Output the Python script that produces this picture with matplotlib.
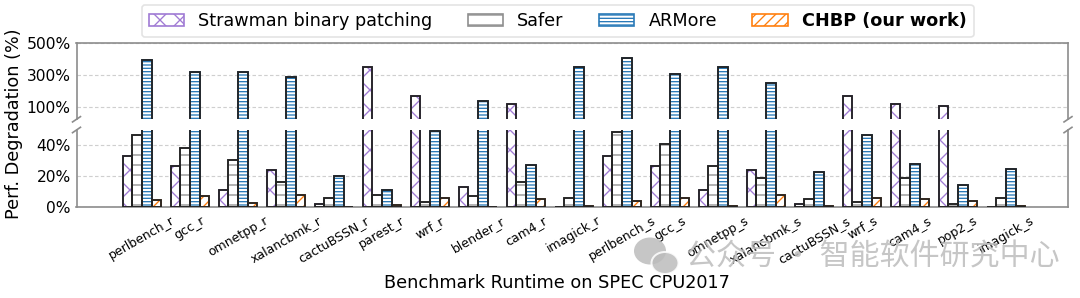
import numpy as np
import matplotlib.pyplot as plt
from matplotlib.patches import Ellipse

benchmarks = ["perlbench_r", "gcc_r", "omnetpp_r", "xalancbmk_r", "cactuBSSN_r",
              "parest_r", "wrf_r", "blender_r", "cam4_r", "imagick_r",
              "perlbench_s", "gcc_s", "omnetpp_s", "xalancbmk_s", "cactuBSSN_s",
              "wrf_s", "cam4_s", "pop2_s", "imagick_s"]
strawman = [33.4, 26.4, 10.9, 23.8, 2.3, 352, 167, 13.2, 119, 0.4,
            33.4, 26.4, 10.9, 23.8, 2.3, 169, 119, 106, 0.4]
safer = [46.6, 38.5, 30.6, 16.2, 5.7, 8.1, 3.4, 7.2, 16.3, 5.7,
         48.9, 40.9, 26.8, 19.1, 5.3, 3.6, 18.7, 2.3, 5.7]
armore = [395, 317, 317, 285, 20.2, 11.1, 49.5, 138, 27.4, 352,
          407, 304, 352, 252, 23.0, 46.6, 27.7, 14.3, 24.5]
chbp = [4.5, 7.0, 3.0, 8.1, 0.4, 1.5, 6.2, 0.4, 5.3, 0.8,
        4.3, 6.0, 0.8, 8.1, 0.8, 6.2, 5.3, 4.3, 0.8]

labels = ["Strawman binary patching", "Safer", "ARMore", "CHBP (our work)"]
hatches = ["xx", "--", "------", "////"]
colors = ["#a07ad4", "#8f8f8f", "#2a7ab8", "#ff7f0e"]

plt.rcParams["hatch.linewidth"] = 0.8

fig = plt.figure(figsize=(9, 298 / 120), dpi=120)
L, W = 76.5 / 1080, (1068 - 76.5) / 1080
ax_top = fig.add_axes([L, 0.5997, W, 0.255])
ax_bot = fig.add_axes([L, 0.3044, W, 0.2594])

x = np.arange(len(benchmarks))
width = 0.2
spine_c = "#8c8c8c"
handles = []
for i, vals in enumerate([strawman, safer, armore, chbp]):
    v = np.array(vals)
    off = (i - 1.5) * width
    # bottom panel gets everything, top panel only what goes past the break
    for ax, mask in [(ax_bot, np.ones_like(v, bool)), (ax_top, v > 50)]:
        b = ax.bar(x[mask] + off, v[mask], width, color="white", edgecolor=colors[i],
                   hatch=hatches[i], linewidth=1.0, label=labels[i], zorder=2)
        ax.bar(x[mask] + off, v[mask], width, color="none", edgecolor="#222222",
               linewidth=1.1, zorder=3)
        if ax is ax_bot:
            handles.append(b)

ax_top.set_ylim(20, 500)
ax_bot.set_ylim(0, 50)
for ax in (ax_top, ax_bot):
    ax.set_xlim(-1.3625, 19.29)
    ax.set_axisbelow(True)
    ax.grid(axis="y", color="#cfcfcf", linestyle=(0, (3, 2)), linewidth=0.7)
    for s in ax.spines.values():
        s.set_color(spine_c)
        s.set_linewidth(1.0)
    ax.tick_params(axis="y", length=0, pad=3.5, labelsize=9.3)
    ax.tick_params(axis="x", length=0)

ax_top.set_yticks([100, 300, 500])
ax_top.set_yticklabels(["100%", "300%", "500%"])
ax_top.spines["bottom"].set_visible(False)
ax_top.set_xticks([])

ax_bot.set_yticks([0, 20, 40])
ax_bot.set_yticklabels(["0%", "20%", "40%"])
ax_bot.spines["top"].set_visible(False)
ax_bot.set_xticks(x)
ax_bot.set_xticklabels(benchmarks, rotation=30, ha="center", fontsize=7.5)
ax_bot.tick_params(axis="x", pad=4)

# break marks
dx, dy = 0.004, 0.035
kw = dict(color=spine_c, linewidth=1.0, clip_on=False)
for xx in (0, 1):
    ax_top.plot([xx - dx, xx + dx], [-dy, dy], transform=ax_top.transAxes, **kw)
    ax_bot.plot([xx - dx, xx + dx], [1 - dy, 1 + dy], transform=ax_bot.transAxes, **kw)

fig.text(14 / 1080, 1 - 124 / 298, "Perf. Degradation (%)", rotation=90,
         ha="center", va="center", fontsize=10.6)
fig.text(556.5 / 1080, 1 - 283 / 298, "Benchmark Runtime on SPEC CPU2017",
         ha="center", va="center", fontsize=10.6)

leg = fig.legend(handles, labels, loc="center", ncol=4, fontsize=10.6,
                 bbox_to_anchor=(557.7 / 1080, 1 - 21 / 298), frameon=True,
                 edgecolor="#dddddd", borderpad=0.4)
leg.get_texts()[3].set_fontweight("bold")

# watermark
wm = "#bcbcbc"
fig.add_artist(Ellipse((650 / 1080, 1 - 251 / 298), 32 / 1080, 27 / 298,
                       transform=fig.transFigure, facecolor=wm, edgecolor="none", alpha=0.85))
fig.add_artist(Ellipse((665 / 1080, 1 - 263 / 298), 27 / 1080, 22 / 298,
                       transform=fig.transFigure, facecolor=wm, edgecolor="white",
                       linewidth=1.2, alpha=0.85))
fig.text(686 / 1080, 1 - 257 / 298, "公众号 · 智能软件研究中心", ha="left", va="center",
         fontsize=18, color=wm, alpha=0.85, family=["Noto Sans CJK SC", "DejaVu Sans"])

fig.savefig("out.png", dpi=120)
